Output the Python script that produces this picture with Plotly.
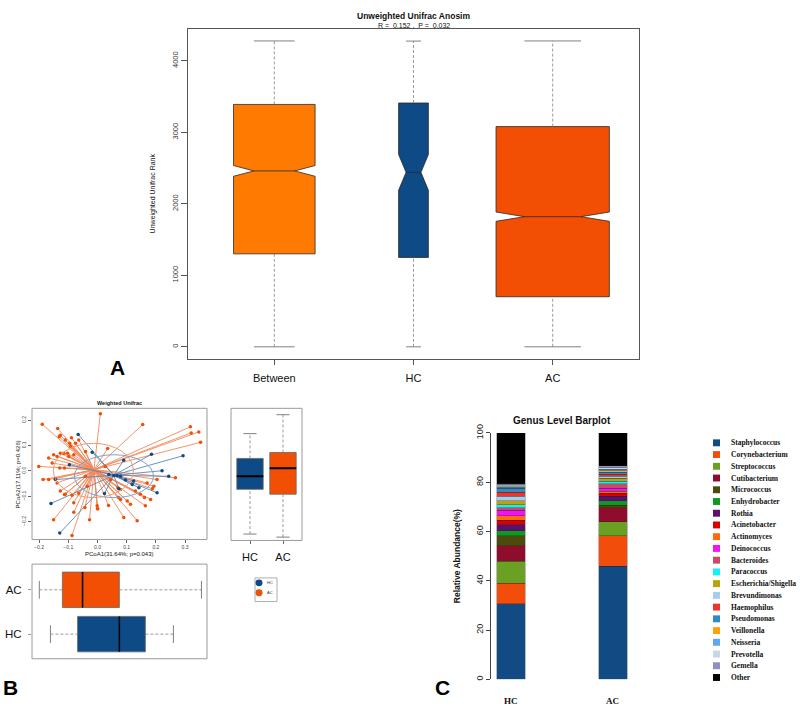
import plotly.graph_objects as go

W, H = 800, 713
def fx(px): return px / W
def fy(py): return 1 - py / H

SANS = "Liberation Sans, Arial, sans-serif"
SERIF = "Liberation Serif, Times New Roman, serif"

# ---------------- Panel A : Unweighted Unifrac Anosim ----------------
anosim_groups = ["Between", "HC", "AC"]
anosim_min = [0, 0, 0]
anosim_q1 = [1300, 1250, 700]
anosim_median = [2460, 2440, 1820]
anosim_q3 = [3390, 3410, 3080]
anosim_max = [4278, 4276, 4278]
anosim_notch = [75, 250, 65]
anosim_yticks = [0, 1000, 2000, 3000, 4000]

# ---------------- Panel B : Weighted Unifrac PCoA ----------------
groups_b = ["HC", "AC"]
hc_pc1 = [-0.066, -0.018, 0.185, 0.293, 0.090, -0.096, -0.144, 0.221, 0.244, 0.056, 0.067,
          0.079, 0.096, 0.119, 0.142, 0.204, 0.073, 0.024, -0.159, -0.129, 0.124, 0.039]
hc_pc2 = [0.144, 0.074, 0.066, 0.060, 0.042, 0.025, -0.034, 0.001, -0.021, -0.018, -0.018,
          -0.021, -0.036, -0.053, -0.066, -0.086, -0.070, -0.089, -0.128, -0.245, -0.040, -0.014]
ac_pc1 = [0.010, -0.189, 0.155, -0.136, -0.127, -0.131, -0.110, -0.089, -0.075, -0.095,
          -0.150, -0.138, -0.127, -0.115, -0.102, -0.081, -0.098, -0.167, -0.155, -0.129,
          -0.113, -0.201, -0.186, -0.167, -0.144, -0.138, -0.127, -0.110, -0.087, -0.064,
          -0.081, -0.043, -0.001, 0.001, -0.081, -0.150, -0.027, -0.087, 0.136, 0.090,
          0.035, 0.027, -0.041, 0.070, 0.079, 0.102, 0.130, 0.147, 0.164, 0.182,
          0.204, 0.267, 0.318, 0.321, 0.347, 0.353, 0.079, -0.092, -0.064, -0.041,
          0.170, 0.193, -0.035, 0.045, 0.113, 0.188, 0.161, 0.072, 0.038, 0.000, -0.113]
ac_pc2 = [0.226, 0.184, 0.183, 0.167, 0.141, 0.135, 0.122, 0.131, 0.109, 0.109,
          0.064, 0.057, 0.070, 0.070, 0.070, 0.064, 0.057, 0.051, 0.031, 0.012,
          0.012, 0.018, -0.034, -0.034, -0.031, -0.047, -0.079, -0.092, -0.096, -0.088,
          -0.125, -0.144, -0.137, -0.150, -0.163, -0.192, -0.192, -0.254, -0.196, -0.183,
          0.089, 0.018, -0.021, -0.066, -0.112, -0.118, -0.079, -0.092, -0.137, -0.112,
          -0.034, -0.027, 0.174, 0.150, 0.154, 0.113, -0.073, 0.096, 0.122, 0.077,
          -0.047, -0.060, -0.060, -0.034, -0.131, -0.070, -0.105, -0.105, -0.136, -0.148, -0.093]
centroid_pc1 = [0.056, -0.012]
centroid_pc2 = [-0.017, 0.005]
ellipse_pc1 = [(-0.079, 0.192), (-0.151, 0.123)]
ellipse_pc2 = [(-0.105, 0.064), (-0.105, 0.109)]
# PCoA2 box statistics (HC, AC)
pc2_min = [-0.245, -0.257]
pc2_q1 = [-0.070, -0.089]
pc2_med = [-0.019, 0.012]
pc2_q3 = [0.051, 0.074]
pc2_max = [0.148, 0.222]
# PCoA1 box statistics (HC, AC)
pc1_min = [-0.161, -0.199]
pc1_q1 = [-0.068, -0.120]
pc1_med = [0.075, -0.051]
pc1_q3 = [0.164, 0.075]
pc1_max = [0.260, 0.356]
pc_ticks = [-0.2, -0.1, 0.0, 0.1, 0.2, 0.3]

# ---------------- Panel C : Genus level barplot ----------------
samples_c = ["HC", "AC"]
genera = ["Staphylococcus", "Corynebacterium", "Streptococcus", "Cutibacterium", "Micrococcus",
          "Enhydrobacter", "Rothia", "Acinetobacter", "Actinomyces", "Deinococcus", "Bacteroides",
          "Paracoccus", "Escherichia/Shigella", "Brevundimonas", "Haemophilus", "Pseudomonas",
          "Veillonella", "Neisseria", "Prevotella", "Gemella", "Other"]
hc_abund = [30.7, 8.3, 9.0, 6.3, 4.1, 2.0, 2.3, 1.8, 1.9, 2.3, 1.0,
            1.1, 1.6, 1.9, 1.6, 1.6, 0.5, 0.5, 0.4, 0.5, 20.6]
ac_abund = [46.0, 12.3, 5.7, 5.6, 1.1, 1.8, 1.9, 1.2, 0.8, 1.2, 1.7,
            1.2, 1.1, 0.8, 0.9, 0.7, 0.7, 0.6, 0.7, 0.7, 13.3]
genus_colors = ["#124A84", "#F24D0A", "#6AA122", "#900C2C", "#4C4A0C", "#0E9A1E", "#5A1070",
                "#D80000", "#FF6B0A", "#F512F0", "#C84A66", "#16F0F5", "#BFA10C", "#A8CDEE",
                "#EE342C", "#2E8BC7", "#FFA10A", "#5BAAF0", "#CAD6E4", "#9090C0", "#000000"]

# ---------------- styles ----------------
A_COLORS = {"Between": "#FF7A00", "HC": "#0D4A86", "AC": "#F24E04"}
A_WIDTH = {"Between": 0.586, "HC": 0.214, "AC": 0.814}
B_COLORS = {"HC": "#0D4A86", "AC": "#F24E04"}
B_LINE = {"HC": "#5A86B5", "AC": "#F0895C"}
B_ELL = {"HC": "#7FA3C9", "AC": "#EE9A72"}

fig = go.Figure()
NOHOVER = dict(hoverinfo="skip", showlegend=False)

def whiskers(pos, lo, q1, q3, hi, capw, xa, ya, horizontal=False, color="#808080"):
    a = [pos, pos, None, pos, pos]
    b = [lo, q1, None, q3, hi]
    ca = [pos - capw, pos + capw, None, pos - capw, pos + capw]
    cb = [lo, lo, None, hi, hi]
    if horizontal:
        a, b, ca, cb = b, a, cb, ca
    fig.add_trace(go.Scatter(x=a, y=b, mode="lines", line=dict(color=color, width=0.8, dash="3px,2px"),
                             xaxis=xa, yaxis=ya, **NOHOVER))
    fig.add_trace(go.Scatter(x=ca, y=cb, mode="lines", line=dict(color=color, width=1),
                             xaxis=xa, yaxis=ya, **NOHOVER))

# Panel A
for i, g in enumerate(anosim_groups):
    pos = i + 1
    w = A_WIDTH[g]
    whiskers(pos, anosim_min[i], anosim_q1[i], anosim_q3[i], anosim_max[i], w / 4, "x", "y")
    fig.add_trace(go.Box(x=[pos], q1=[anosim_q1[i]], median=[anosim_median[i]], q3=[anosim_q3[i]],
                         lowerfence=[anosim_q1[i]], upperfence=[anosim_q3[i]], notched=True,
                         notchspan=[anosim_notch[i]], notchwidth=0.25, width=w, whiskerwidth=0,
                         fillcolor=A_COLORS[g], line=dict(color="#2a2a2a", width=0.8),
                         boxpoints=False, xaxis="x", yaxis="y", **NOHOVER))

# Panel B scatter (spider lines + points)
pts = {"HC": (hc_pc1, hc_pc2), "AC": (ac_pc1, ac_pc2)}
for g in ["AC", "HC"]:
    k = groups_b.index(g)
    xs, ys = pts[g]
    lx, ly = [], []
    for x, y in zip(xs, ys):
        lx += [centroid_pc1[k], x, None]
        ly += [centroid_pc2[k], y, None]
    fig.add_trace(go.Scatter(x=lx, y=ly, mode="lines", line=dict(color=B_LINE[g], width=0.9),
                             xaxis="x2", yaxis="y2", **NOHOVER))
for g in ["AC", "HC"]:
    xs, ys = pts[g]
    fig.add_trace(go.Scatter(x=xs, y=ys, mode="markers", marker=dict(color=B_COLORS[g], size=3.5),
                             xaxis="x2", yaxis="y2", **NOHOVER))

shapes = []
for k, g in enumerate(groups_b):
    shapes.append(dict(type="circle", xref="x2", yref="y2", x0=ellipse_pc1[k][0], x1=ellipse_pc1[k][1],
                       y0=ellipse_pc2[k][0], y1=ellipse_pc2[k][1], line=dict(color=B_ELL[g], width=1)))

# Panel B right boxes (PCoA2)
BW = 0.8
for k, g in enumerate(groups_b):
    pos = k + 1
    whiskers(pos, pc2_min[k], pc2_q1[k], pc2_q3[k], pc2_max[k], BW / 4, "x3", "y3")
    fig.add_trace(go.Box(x=[pos], q1=[pc2_q1[k]], median=[pc2_med[k]], q3=[pc2_q3[k]],
                         lowerfence=[pc2_q1[k]], upperfence=[pc2_q3[k]], width=BW, whiskerwidth=0,
                         fillcolor=B_COLORS[g], line=dict(color="#666666", width=0.8),
                         boxpoints=False, xaxis="x3", yaxis="y3", **NOHOVER))
    fig.add_trace(go.Scatter(x=[pos - BW / 2, pos + BW / 2], y=[pc2_med[k]] * 2, mode="lines",
                             line=dict(color="#000", width=2), xaxis="x3", yaxis="y3", **NOHOVER))

# Panel B bottom boxes (PCoA1)
for k, g in enumerate(groups_b):
    pos = k + 1
    whiskers(pos, pc1_min[k], pc1_q1[k], pc1_q3[k], pc1_max[k], BW / 4, "x4", "y4", horizontal=True)
    fig.add_trace(go.Box(y=[pos], q1=[pc1_q1[k]], median=[pc1_med[k]], q3=[pc1_q3[k]],
                         lowerfence=[pc1_q1[k]], upperfence=[pc1_q3[k]], width=BW, whiskerwidth=0,
                         orientation="h", fillcolor=B_COLORS[g], line=dict(color="#666666", width=0.8),
                         boxpoints=False, xaxis="x4", yaxis="y4", **NOHOVER))
    fig.add_trace(go.Scatter(y=[pos - BW / 2, pos + BW / 2], x=[pc1_med[k]] * 2, mode="lines",
                             line=dict(color="#000", width=1.5), xaxis="x4", yaxis="y4", **NOHOVER))

# Panel C stacked bars
for i, gname in enumerate(genera):
    fig.add_trace(go.Bar(x=[0, 1], y=[hc_abund[i], ac_abund[i]], name=gname, width=0.275,
                         marker=dict(color=genus_colors[i], line=dict(color="#222", width=0.3)),
                         xaxis="x5", yaxis="y5", hoverinfo="skip", showlegend=False))

annotations = []
def ann(text, px, py, size, bold=False, family=SANS, angle=0, xanchor="center", color="#111", **kw):
    t = f"<b>{text}</b>" if bold else text
    d = dict(text=t, x=fx(px), y=fy(py), xref="paper", yref="paper", showarrow=False,
             font=dict(size=size, family=family, color=color), textangle=angle,
             xanchor=xanchor, yanchor="middle")
    d.update(kw)
    annotations.append(d)

ann("Unweighted Unifrac Anosim", 414, 7, 8.5, bold=True)
ann("R =  0.152 ,  P =  0.032", 414, 16.5, 7)
ann("Unweighted Unifrac Rank", 153, 187, 7, angle=-90)
ann("A", 117, 364, 21, bold=True, color="#000")
ann("Weighted Unifrac", 119, 400, 5.5, bold=True)
ann("PCoA2(17.11%; p=0.426)", 18, 472, 6, angle=-90)
ann("PCoA1(31.64%; p=0.043)", 119, 553, 6)
ann("B", 10, 688, 21, bold=True, color="#000")
ann("Genus Level Barplot", 562, 417, 10, bold=True)
ann("Relative Abundance(%)", 457, 555, 8.5, bold=True, angle=-90)
ann("C", 442, 688, 21, bold=True, color="#000")
for j, s in enumerate(samples_c):
    annotations.append(dict(text=f"<b>{s}</b>", x=j, y=fy(702), xref="x5", yref="paper", showarrow=False,
                            font=dict(size=9, family=SERIF, color="#111"), xanchor="center", yanchor="middle"))

# Panel B legend
shapes.append(dict(type="rect", xref="paper", yref="paper", x0=fx(255), x1=fx(277), y0=fy(601), y1=fy(577),
                   line=dict(color="#999", width=0.8)))
for k, g in enumerate(groups_b):
    cy = 582 + 10 * k
    shapes.append(dict(type="circle", xref="paper", yref="paper", x0=fx(255.5), x1=fx(262.5),
                       y0=fy(cy + 3.5), y1=fy(cy - 3.5), fillcolor=B_COLORS[g], line=dict(width=0)))
    ann(g, 265, cy, 4, xanchor="left", color="#333")

# Panel C legend
for i, gname in enumerate(genera):
    cy = 440 + i * 11.9
    shapes.append(dict(type="rect", xref="paper", yref="paper", x0=fx(713), x1=fx(720),
                       y0=fy(cy + 3.5), y1=fy(cy - 3.5), fillcolor=genus_colors[i], line=dict(width=0)))
    ann(gname, 729, cy, 7.5, bold=True, family=SERIF, xanchor="left", color="#111")

# frames for panel B
def frame(x0, x1, y0, y1, color="#9a9a9a"):
    shapes.append(dict(type="rect", xref="paper", yref="paper", x0=fx(x0), x1=fx(x1), y0=fy(y1), y1=fy(y0),
                       line=dict(color=color, width=1)))
frame(32, 207, 405, 538)
frame(231, 302, 405, 539)
frame(32, 207, 563, 659)

base_ax = dict(showgrid=False, zeroline=False)
tick_small = dict(ticks="outside", ticklen=3, tickwidth=0.6, tickcolor="#666",
                  tickfont=dict(size=5, family=SANS, color="#444"))

fig.update_layout(
    width=W, height=H, autosize=False, margin=dict(l=0, r=0, t=0, b=0),
    paper_bgcolor="white", plot_bgcolor="rgba(0,0,0,0)", showlegend=False,
    barmode="stack", boxmode="overlay", font=dict(family=SANS),
    xaxis=dict(domain=[fx(188), fx(639)], range=[0.38, 3.62], anchor="y", tickvals=[1, 2, 3],
               ticktext=anosim_groups, showline=True, mirror=True, linecolor="#555", linewidth=1,
               ticks="outside", ticklen=5, tickcolor="#555", ticklabelstandoff=4,
               tickfont=dict(size=11, family=SANS, color="#111"), **base_ax),
    yaxis=dict(domain=[fy(355), fy(20)], range=[-171, 4449], anchor="x", tickvals=anosim_yticks,
               tickangle=-90, showline=True, mirror=True, linecolor="#555", linewidth=1,
               ticks="outside", ticklen=6, tickcolor="#555",
               tickfont=dict(size=7.5, family=SANS, color="#333"), **base_ax),
    xaxis2=dict(domain=[fx(32), fx(207)], range=[-0.224, 0.375], anchor="y2", tickvals=pc_ticks,
                tickformat=".1f", **tick_small, **base_ax),
    yaxis2=dict(domain=[fy(538), fy(405)], range=[-0.27, 0.247], anchor="x2", tickvals=pc_ticks,
                tickformat=".1f", tickangle=-90, **tick_small, **base_ax),
    xaxis3=dict(domain=[fx(231), fx(302)], range=[0.424, 2.576], anchor="y3", tickvals=[1, 2],
                ticktext=groups_b, ticks="outside", ticklen=3, tickcolor="#666", ticklabelstandoff=3,
                tickfont=dict(size=11, family=SANS, color="#111"), **base_ax),
    yaxis3=dict(domain=[fy(539), fy(405)], range=[-0.27, 0.247], anchor="x3", showticklabels=False,
                ticks="", **base_ax),
    xaxis4=dict(domain=[fx(32), fx(207)], range=[-0.224, 0.375], anchor="y4", showticklabels=False,
                ticks="", **base_ax),
    yaxis4=dict(domain=[fy(659), fy(563)], range=[0.444, 2.58], anchor="x4", tickvals=[1, 2],
                ticktext=groups_b, ticks="outside", ticklen=3, tickcolor="#999", ticklabelstandoff=4,
                tickfont=dict(size=11.5, family=SANS, color="#111"), **base_ax),
    xaxis5=dict(domain=[fx(491), fx(640)], range=[-0.196, 1.265], anchor="y5", showticklabels=False,
                ticks="", showline=False, **base_ax),
    yaxis5=dict(domain=[fy(680), fy(430)], range=[0, 100], anchor="x5", tickvals=[0, 20, 40, 60, 80, 100],
                tickangle=-90, showline=True, linecolor="#444", linewidth=0.8, ticks="outside", ticklen=4,
                tickcolor="#444", tickfont=dict(size=9, family=SANS, color="#222"), **base_ax),
    shapes=shapes, annotations=annotations,
)

fig.write_html("out.html", config={"displayModeBar": False},
               post_script="document.body.style.margin='0';document.body.style.overflow='hidden';")
